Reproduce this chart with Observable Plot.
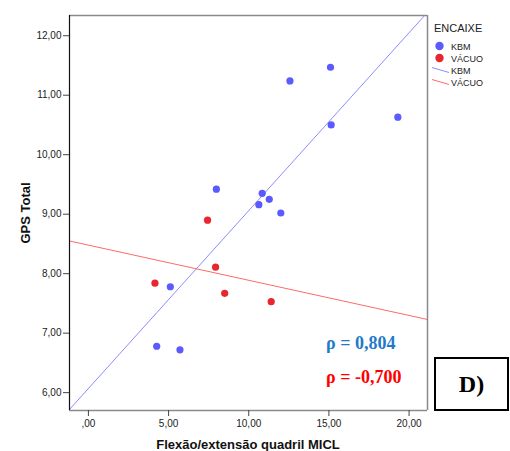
<!DOCTYPE html>
<html>
<head>
<meta charset="utf-8">
<script src="https://cdn.jsdelivr.net/npm/d3@7"></script>
<script src="https://cdn.jsdelivr.net/npm/@observablehq/plot@0.6"></script>
<style>
  html, body { margin: 0; padding: 0; background: #fff; }
  #wrap { position: relative; width: 510px; height: 451px; overflow: hidden; font-family: "Liberation Sans", Arial, sans-serif; }
  #wrap svg { position: absolute; left: 0; top: 0; }
  .ov { position: absolute; white-space: nowrap; }
</style>
</head>
<body>
<div id="wrap"></div>
<script>
// ---- data ----
const groups = ["KBM", "VÁCUO"];
const groupColors = ["#5a5aff", "#e8262f"];
const lineColors = ["#8c8cff", "#ff6a6a"];
const kbmX = [12.57, 15.10, 19.30, 15.14, 7.98, 10.84, 11.28, 10.63, 12.00, 5.11, 4.26, 5.71];
const kbmY = [11.24, 11.47, 10.63, 10.50, 9.42, 9.35, 9.25, 9.16, 9.02, 7.78, 6.78, 6.72];
const vacX = [7.43, 7.93, 4.15, 8.50, 11.40];
const vacY = [8.90, 8.11, 7.84, 7.67, 7.53];
const fitIntercept = [6.07, 8.48];
const fitSlope = [0.299, -0.0591];
const xTicks = [0, 5, 10, 15, 20];
const yTicks = [6, 7, 8, 9, 10, 11, 12];
const xDomain = [-1.18, 21.15];
const yDomain = [5.70, 12.34];
const rhoLabels = ["ρ = 0,804", "ρ = -0,700"];
const rhoColors = ["#1f7ac8", "#ff0000"];
const panelLabel = "D)";
const legendTitle = "ENCAIXE";
const xTitle = "Flexão/extensão quadril MICL";
const yTitle = "GPS Total";

// ---- tables ----
const points = [
  ...kbmX.map((x, i) => ({x, y: kbmY[i], g: groups[0]})),
  ...vacX.map((x, i) => ({x, y: vacY[i], g: groups[1]}))
];
const fitLines = groups.flatMap((g, i) => xDomain.map(x => ({x, y: fitIntercept[i] + fitSlope[i] * x, g})));

const fmt = d => (d3.format(".2f")(d)).replace(".", ",").replace(/^0,/, ",");

const chart = Plot.plot({
  width: 510,
  height: 451,
  marginLeft: 69,
  marginRight: 83,
  marginTop: 15,
  marginBottom: 41,
  style: {fontFamily: "'Liberation Sans', Arial, sans-serif", fontSize: "10px", background: "transparent"},
  x: {domain: xDomain},
  y: {domain: yDomain},
  color: {domain: groups, range: groupColors},
  marks: [
    Plot.line(fitLines, {x: "x", y: "y", z: "g", stroke: d => lineColors[groups.indexOf(d.g)], strokeWidth: 1, clip: true}),
    Plot.dot(points, {x: "x", y: "y", fill: d => groupColors[groups.indexOf(d.g)], r: 3.6, stroke: "none"}),
    Plot.ruleY([yDomain[1]], {stroke: "#8a8a8a", strokeWidth: 1.5}),
    Plot.ruleX([xDomain[1]], {stroke: "#8a8a8a", strokeWidth: 1.5}),
    Plot.ruleY([yDomain[0]], {stroke: "#8a8a8a", strokeWidth: 1.5}),
    Plot.ruleX([xDomain[0]], {stroke: "#111", strokeWidth: 1.2}),
    Plot.axisX({ticks: xTicks, tickFormat: fmt, tickSize: 6, tickPadding: 3, label: null, color: "#222", stroke: "#444"}),
    Plot.axisY({ticks: yTicks, tickFormat: fmt, tickSize: 6, tickPadding: 2, label: null, color: "#222", stroke: "#444"})
  ]
});

const wrap = document.getElementById("wrap");
wrap.appendChild(chart);

function ov(html, css) {
  const d = document.createElement("div");
  d.className = "ov";
  d.innerHTML = html;
  Object.assign(d.style, css);
  wrap.appendChild(d);
  return d;
}

// axis titles
ov(xTitle, {left: "69px", width: "358px", textAlign: "center", top: "437px", fontSize: "13px", fontWeight: "bold", color: "#111"});
ov(yTitle, {left: "25px", top: "213px", fontSize: "13px", fontWeight: "bold", color: "#111", transform: "translate(-50%,-50%) rotate(-90deg)"});

// legend
const lg = document.createElementNS("http://www.w3.org/2000/svg", "svg");
lg.setAttribute("width", "80");
lg.setAttribute("height", "80");
lg.style.left = "430px";
lg.style.top = "15px";
wrap.appendChild(lg);
const L = d3.select(lg);
L.append("text").attr("x", 4).attr("y", 17).text(legendTitle)
  .attr("font-size", 11).attr("fill", "#222").attr("font-family", "'Liberation Sans', Arial, sans-serif");
groups.forEach((g, i) => {
  const cy = 31 + i * 12;
  L.append("circle").attr("cx", 9.5).attr("cy", cy).attr("r", 4.2).attr("fill", groupColors[i]);
  L.append("text").attr("x", 21).attr("y", cy + 3.5).text(g)
    .attr("font-size", 9).attr("fill", "#222").attr("font-family", "'Liberation Sans', Arial, sans-serif");
});
groups.forEach((g, i) => {
  const cy = 55 + i * 12;
  L.append("line").attr("x1", 2).attr("y1", cy - 2.5).attr("x2", 19).attr("y2", cy + 2.5)
    .attr("stroke", lineColors[i]).attr("stroke-width", 1);
  L.append("text").attr("x", 21).attr("y", cy + 3.5).text(g)
    .attr("font-size", 9).attr("fill", "#222").attr("font-family", "'Liberation Sans', Arial, sans-serif");
});

// correlation annotations
rhoLabels.forEach((t, i) => {
  ov(t, {left: "326px", top: (332 + i * 34) + "px", fontFamily: "'Liberation Serif', 'Times New Roman', serif",
    fontWeight: "bold", fontSize: "18px", color: rhoColors[i], lineHeight: "22px"});
});

// panel label box
ov(panelLabel, {left: "434px", top: "357px", width: "71px", height: "50px", border: "2px solid #000", boxSizing: "content-box",
  textAlign: "center", lineHeight: "50px", fontFamily: "'Liberation Serif', 'Times New Roman', serif",
  fontWeight: "bold", fontSize: "24px", color: "#000"});
</script>
</body>
</html>
